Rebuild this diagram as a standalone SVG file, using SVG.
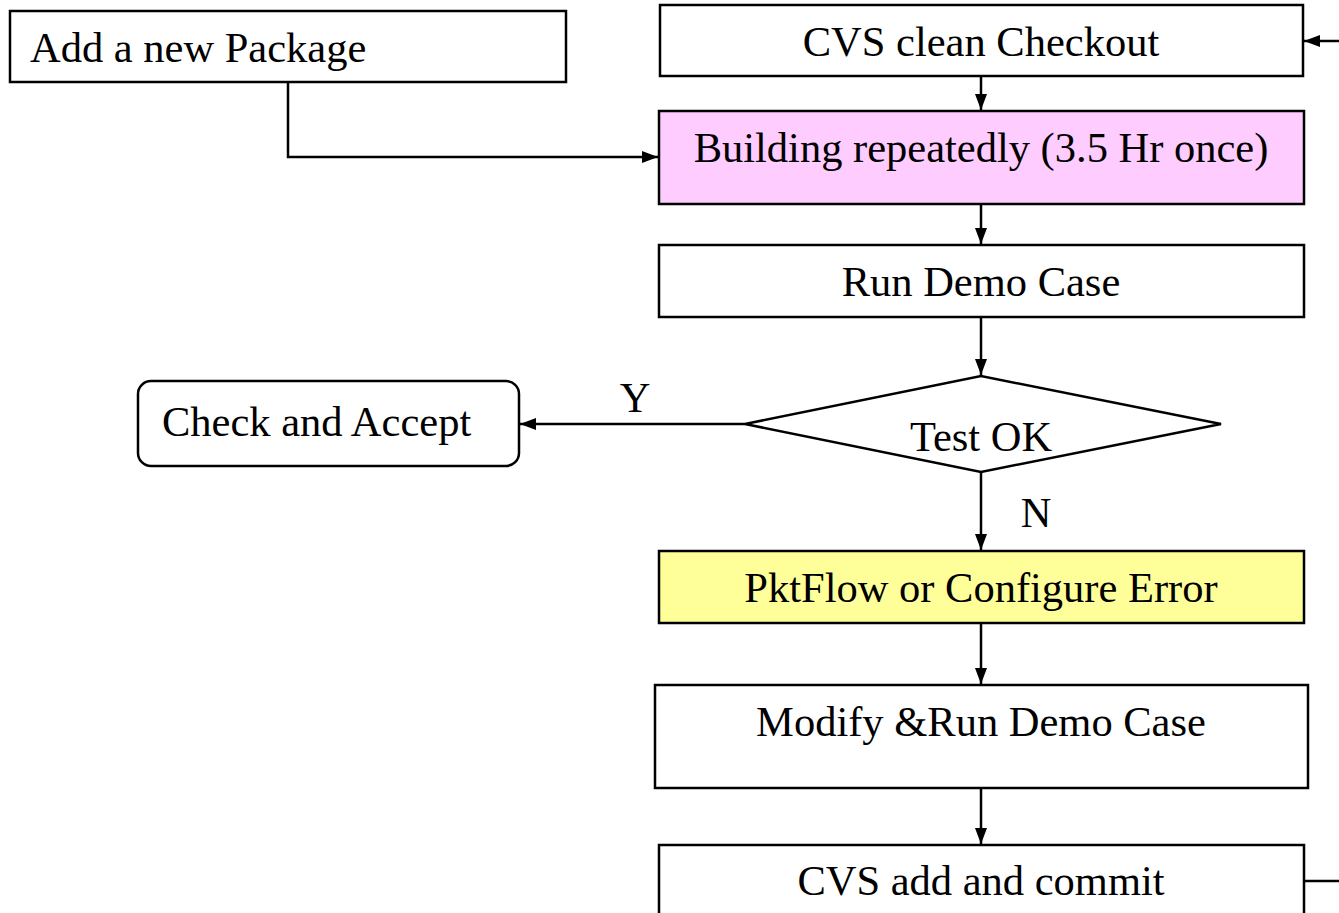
<svg xmlns="http://www.w3.org/2000/svg" width="1339" height="913" viewBox="0 0 1339 913">
<defs>
<style>
.box{fill:#fff;stroke:#000;stroke-width:2.5}
.t{font-family:"Liberation Serif","Times New Roman",serif;font-size:42.5px;fill:#000}
.c{text-anchor:middle}
.ln{fill:none;stroke:#000;stroke-width:2.5}
</style>
<marker id="ah2" viewBox="0 0 16 12" refX="16" refY="6" markerWidth="16" markerHeight="12" orient="auto" markerUnits="userSpaceOnUse">
<path d="M0,0 L16,6 L0,12 z" fill="#000"/>
</marker>
</defs>
<rect width="1339" height="913" fill="#fff"/>
<g id="connectors">
<path class="ln" d="M1339,41 H1304" marker-end="url(#ah2)"/>
<path class="ln" d="M981,77 V110" marker-end="url(#ah2)"/>
<path class="ln" d="M288,82 V157 H658" marker-end="url(#ah2)"/>
<path class="ln" d="M981,205 V244" marker-end="url(#ah2)"/>
<path class="ln" d="M981,318 V375" marker-end="url(#ah2)"/>
<path class="ln" d="M745,424 H520" marker-end="url(#ah2)"/>
<path class="ln" d="M981,472 V550" marker-end="url(#ah2)"/>
<path class="ln" d="M981,624 V684" marker-end="url(#ah2)"/>
<path class="ln" d="M981,789 V844" marker-end="url(#ah2)"/>
<path class="ln" d="M1304,881 H1339"/>
<text class="t" x="635" y="412" text-anchor="middle">Y</text>
<text class="t" x="1036" y="527" text-anchor="middle">N</text>
</g>
<g id="add-package">
<rect class="box" x="10" y="11" width="556" height="71"/>
<text class="t" x="30" y="62">Add a new Package</text>
</g>
<g id="cvs-checkout">
<rect class="box" x="660" y="5" width="643" height="71"/>
<text class="t c" x="981" y="56">CVS clean Checkout</text>
</g>
<g id="building">
<rect class="box" x="659" y="111" width="645" height="93" style="fill:#FFCCFF"/>
<text class="t c" x="981" y="162">Building repeatedly (3.5 Hr once)</text>
</g>
<g id="run-demo">
<rect class="box" x="659" y="245" width="645" height="72"/>
<text class="t c" x="981" y="296">Run Demo Case</text>
</g>
<g id="test-ok">
<polygon class="box" points="745,424 981,376 1221,424 981,472"/>
<text class="t c" x="981" y="451">Test OK</text>
</g>
<g id="check-accept">
<rect class="box" x="138" y="381" width="381" height="85" rx="13"/>
<text class="t" x="162" y="436">Check and Accept</text>
</g>
<g id="pktflow">
<rect class="box" x="659" y="551" width="645" height="72" style="fill:#FFFF99"/>
<text class="t c" x="981" y="602">PktFlow or Configure Error</text>
</g>
<g id="modify-run">
<rect class="box" x="655" y="685" width="653" height="103"/>
<text class="t c" x="981" y="736">Modify &amp;Run Demo Case</text>
</g>
<g id="cvs-commit">
<rect class="box" x="659" y="845" width="645" height="100"/>
<text class="t c" x="981" y="895">CVS add and commit</text>
</g>
</svg>
